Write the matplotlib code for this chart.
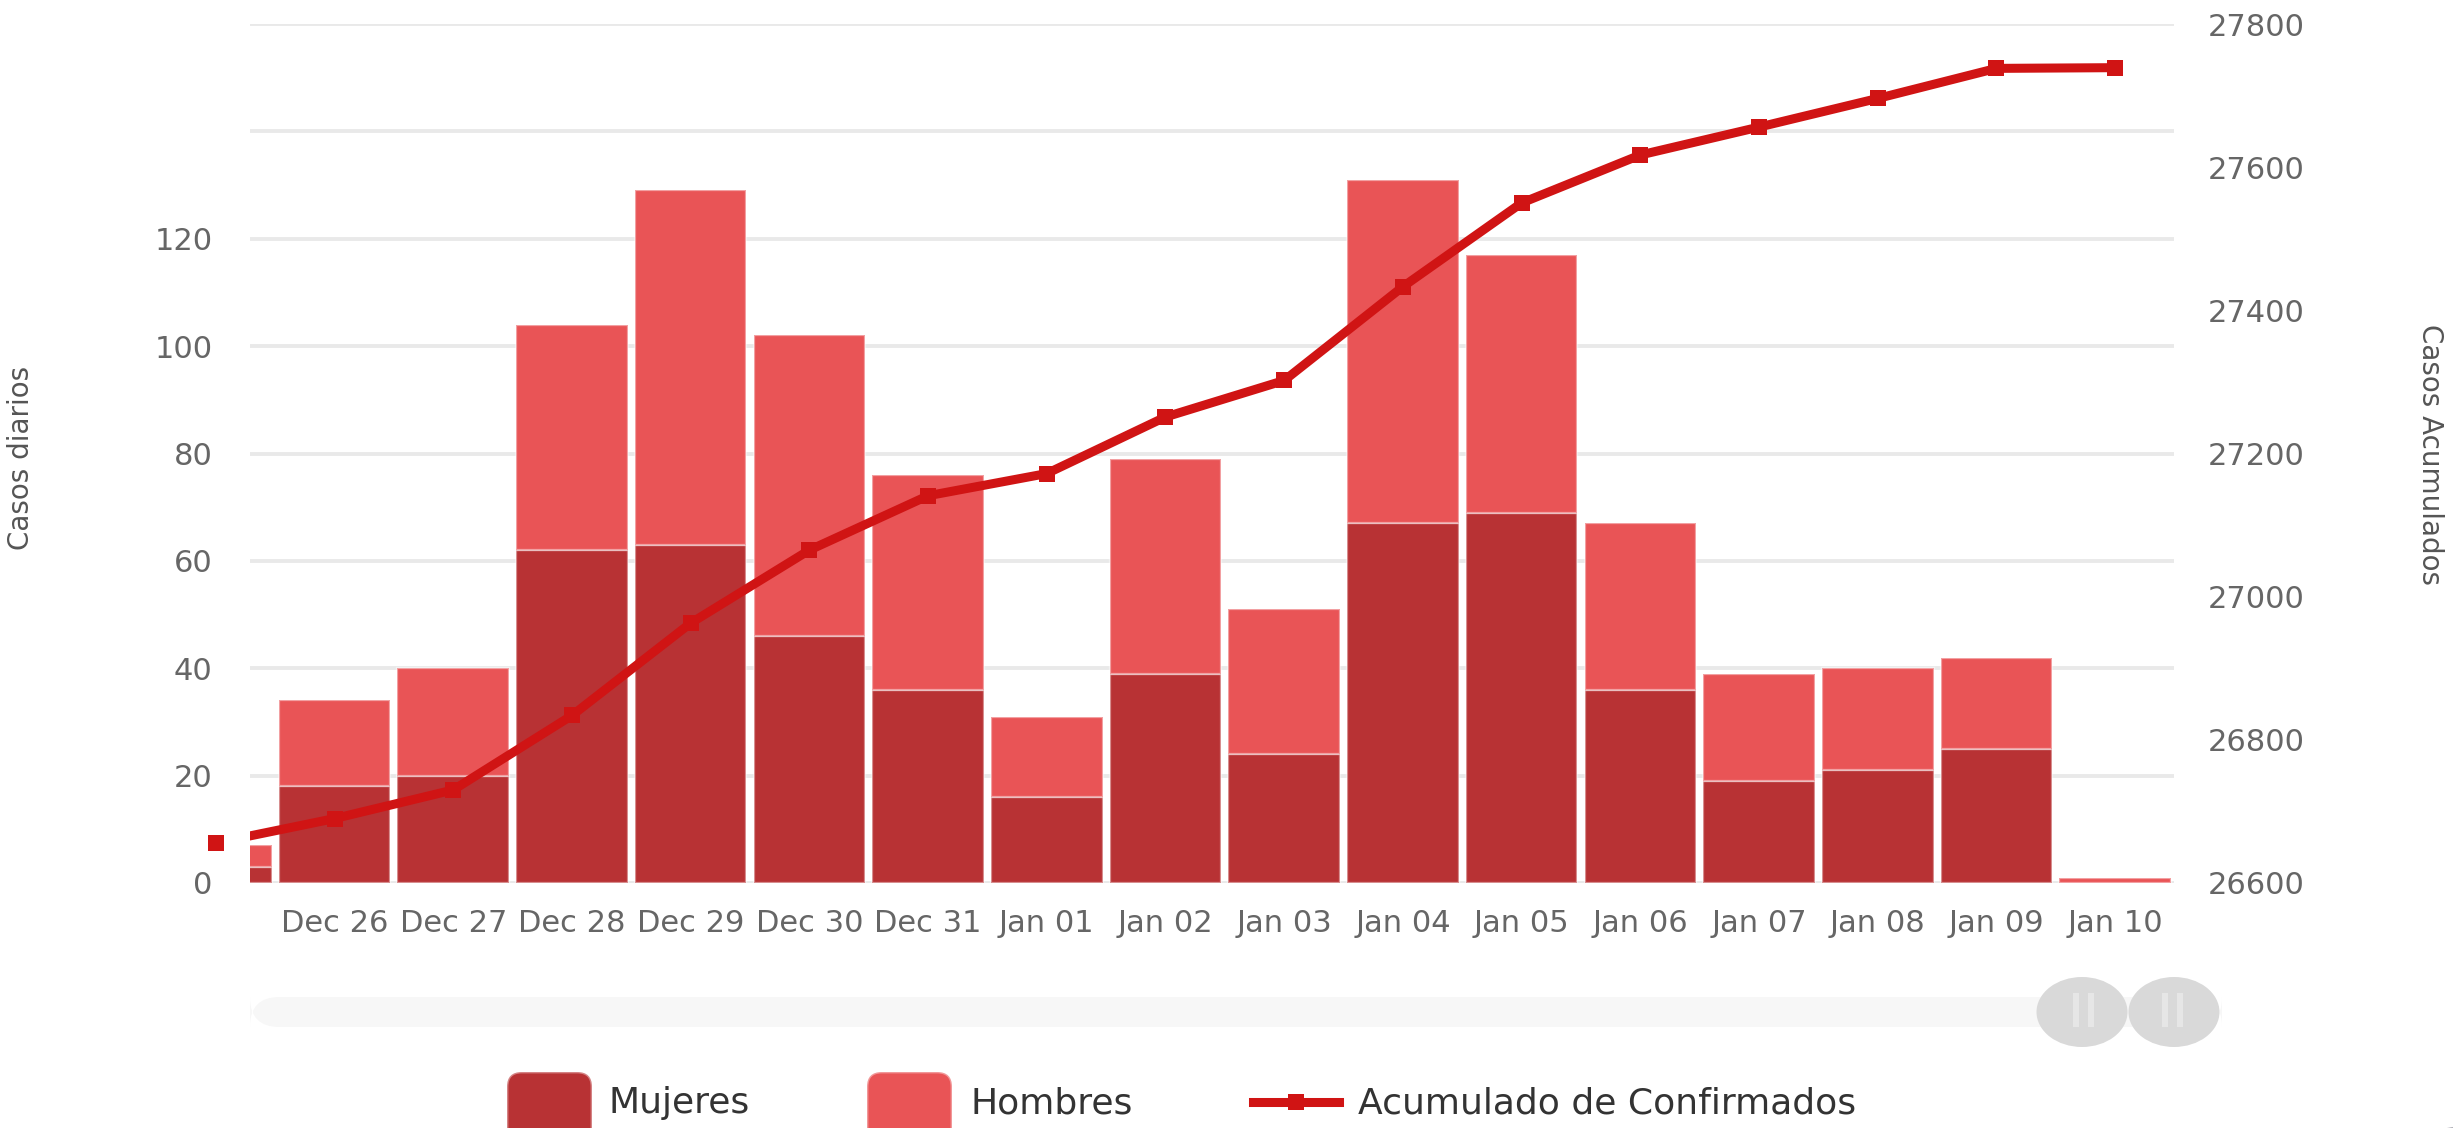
import matplotlib
matplotlib.use("Agg")
import matplotlib.pyplot as plt
from matplotlib import font_manager
from matplotlib.patches import FancyBboxPatch, Ellipse, Circle, Rectangle
from matplotlib.lines import Line2D

# ---------------- data ----------------
categories = ["Dec 25", "Dec 26", "Dec 27", "Dec 28", "Dec 29", "Dec 30", "Dec 31",
              "Jan 01", "Jan 02", "Jan 03", "Jan 04", "Jan 05", "Jan 06", "Jan 07",
              "Jan 08", "Jan 09", "Jan 10"]
mujeres = [3, 18, 20, 62, 63, 46, 36, 16, 39, 24, 67, 69, 36, 19, 21, 25, 0]
hombres = [4, 16, 20, 42, 66, 56, 40, 15, 40, 27, 64, 48, 31, 20, 19, 17, 1]
acumulado = [26656, 26690, 26730, 26834, 26963, 27065, 27141, 27172, 27251,
             27302, 27433, 27550, 27617, 27656, 27696, 27738, 27739]
left_ticks = [0, 20, 40, 60, 80, 100, 120, 140, 160]
left_tick_labels = ["0", "20", "40", "60", "80", "100", "120", "", ""]
right_ticks = [26600, 26800, 27000, 27200, 27400, 27600, 27800]
right_tick_labels = ["26600", "26800", "27000", "27200", "27400", "27600", "27800"]
legend_labels = ["Mujeres", "Hombres", "Acumulado de Confirmados"]

# ---------------- style ----------------
W, H = 2453, 1128
C_MUJ = "#b83234"
C_HOM = "#e95456"
C_LINE = "#d01414"
C_TICK = "#666666"


def has_font(name):
    try:
        font_manager.findfont(font_manager.FontProperties(family=name),
                              fallback_to_default=False)
        return True
    except Exception:
        return False


if has_font("Liberation Sans Narrow"):
    title_family, title_size = ["Liberation Sans Narrow", "DejaVu Sans"], 26
else:
    title_family, title_size = ["DejaVu Sans"], 20

plt.rcParams["font.family"] = ["DejaVu Sans"]

fig = plt.figure(figsize=(W / 100, H / 100), dpi=100)
fig.patch.set_facecolor("white")


def fx(x):
    return x / W


def fy(y):
    return 1 - y / H


L, R, T, B = 250, 2174, 24, 883
ax = fig.add_axes([fx(L), fy(B), (R - L) / W, (B - T) / H])
ax.set_facecolor("none")

x = list(range(len(categories)))
ax.set_xlim(0.288, 16.496)
ax.set_ylim(0, 160)

ax.bar(x, mujeres, width=0.94, color=C_MUJ, edgecolor=(1, 1, 1, 0.45),
       linewidth=1.6, zorder=2)
ax.bar(x, hombres, width=0.94, bottom=mujeres, color=C_HOM,
       edgecolor=(1, 1, 1, 0.45), linewidth=1.6, zorder=2)

ax.set_yticks(left_ticks)
ax.set_yticklabels(left_tick_labels)
ax.yaxis.grid(True, color="#e9e9e9", linewidth=2.8, zorder=0)
ax.set_axisbelow(True)
ax.set_xticks(x[1:])
ax.set_xticklabels(categories[1:])
ax.tick_params(axis="x", length=0, pad=19, labelsize=22, labelcolor=C_TICK)
ax.tick_params(axis="y", length=0, pad=27, labelsize=22, labelcolor=C_TICK)
for s in ax.spines.values():
    s.set_visible(False)
ax.set_ylabel("Casos diarios", family=title_family, fontsize=title_size,
              color="#555555", rotation=90)
ax.yaxis.set_label_coords((35 - L) / (R - L), (B - 458) / (B - T))

ax2 = ax.twinx()
ax2.set_ylim(26600, 27800)
ax2.set_yticks(right_ticks)
ax2.set_yticklabels(right_tick_labels)
ax2.tick_params(axis="y", length=0, pad=24, labelsize=22, labelcolor=C_TICK)
for s in ax2.spines.values():
    s.set_visible(False)
ax2.plot(x, acumulado, color=C_LINE, linewidth=6.5, marker="s", markersize=11,
         markeredgewidth=0, zorder=5)
ax2.plot(x[:1], acumulado[:1], linestyle="none", color=C_LINE, marker="s",
         markersize=11, markeredgewidth=0, clip_on=False, zorder=5)
ax2.set_ylabel("Casos Acumulados", family=title_family, fontsize=title_size,
               color="#555555", rotation=270, va="center")
ax2.yaxis.set_label_coords((2430 - L) / (R - L), (B - 454) / (B - T))

# ---------------- scrollbar ----------------
track = FancyBboxPatch((fx(250), fy(1027)), fx(2222) - fx(250), (1027 - 997) / H,
                       boxstyle="round,pad=0,rounding_size=0.012",
                       transform=fig.transFigure, facecolor="#f7f7f7",
                       edgecolor="none", mutation_aspect=W / H)
fig.patches.append(track)
for cx, lines in [(2082, (2076, 2091)), (2174, (2165, 2180))]:
    e = Ellipse((fx(cx), fy(1012)), 91 / W, 70 / H, transform=fig.transFigure,
                facecolor="#d9d9d9", edgecolor="none")
    fig.patches.append(e)
    for lx in lines:
        fig.patches.append(Rectangle((fx(lx - 3), fy(1027)), 6 / W, 34 / H,
                                     transform=fig.transFigure,
                                     facecolor="#e6e6e6", edgecolor="none"))

# ---------------- legend ----------------
for x0, col in [(507, C_MUJ), (867, C_HOM)]:
    p = FancyBboxPatch((fx(x0), fy(1150)), 85 / W, 78 / H,
                       boxstyle="round,pad=0,rounding_size=0.006",
                       transform=fig.transFigure, facecolor=col,
                       edgecolor=(1, 1, 1, 0.4), linewidth=2,
                       mutation_aspect=W / H)
    fig.patches.append(p)
fig.lines.append(Line2D([fx(1253), fx(1339)], [fy(1102), fy(1102)],
                        transform=fig.transFigure, color=C_LINE, linewidth=6.5))
fig.lines.append(Line2D([fx(1296)], [fy(1102)], transform=fig.transFigure,
                        color=C_LINE, marker="s", markersize=12,
                        markeredgewidth=0, linestyle="none"))
for tx, lab in zip([609, 970, 1358], legend_labels):
    fig.text(fx(tx), fy(1113), lab, fontsize=26, color="#333333",
             va="baseline", ha="left")

# corner button remnant
fig.patches.append(Circle((fx(2462), fy(1142)), 34 / W, transform=fig.transFigure,
                          facecolor="#b3b3ba", edgecolor="none"))

fig.savefig("out.png", dpi=100, facecolor="white")
